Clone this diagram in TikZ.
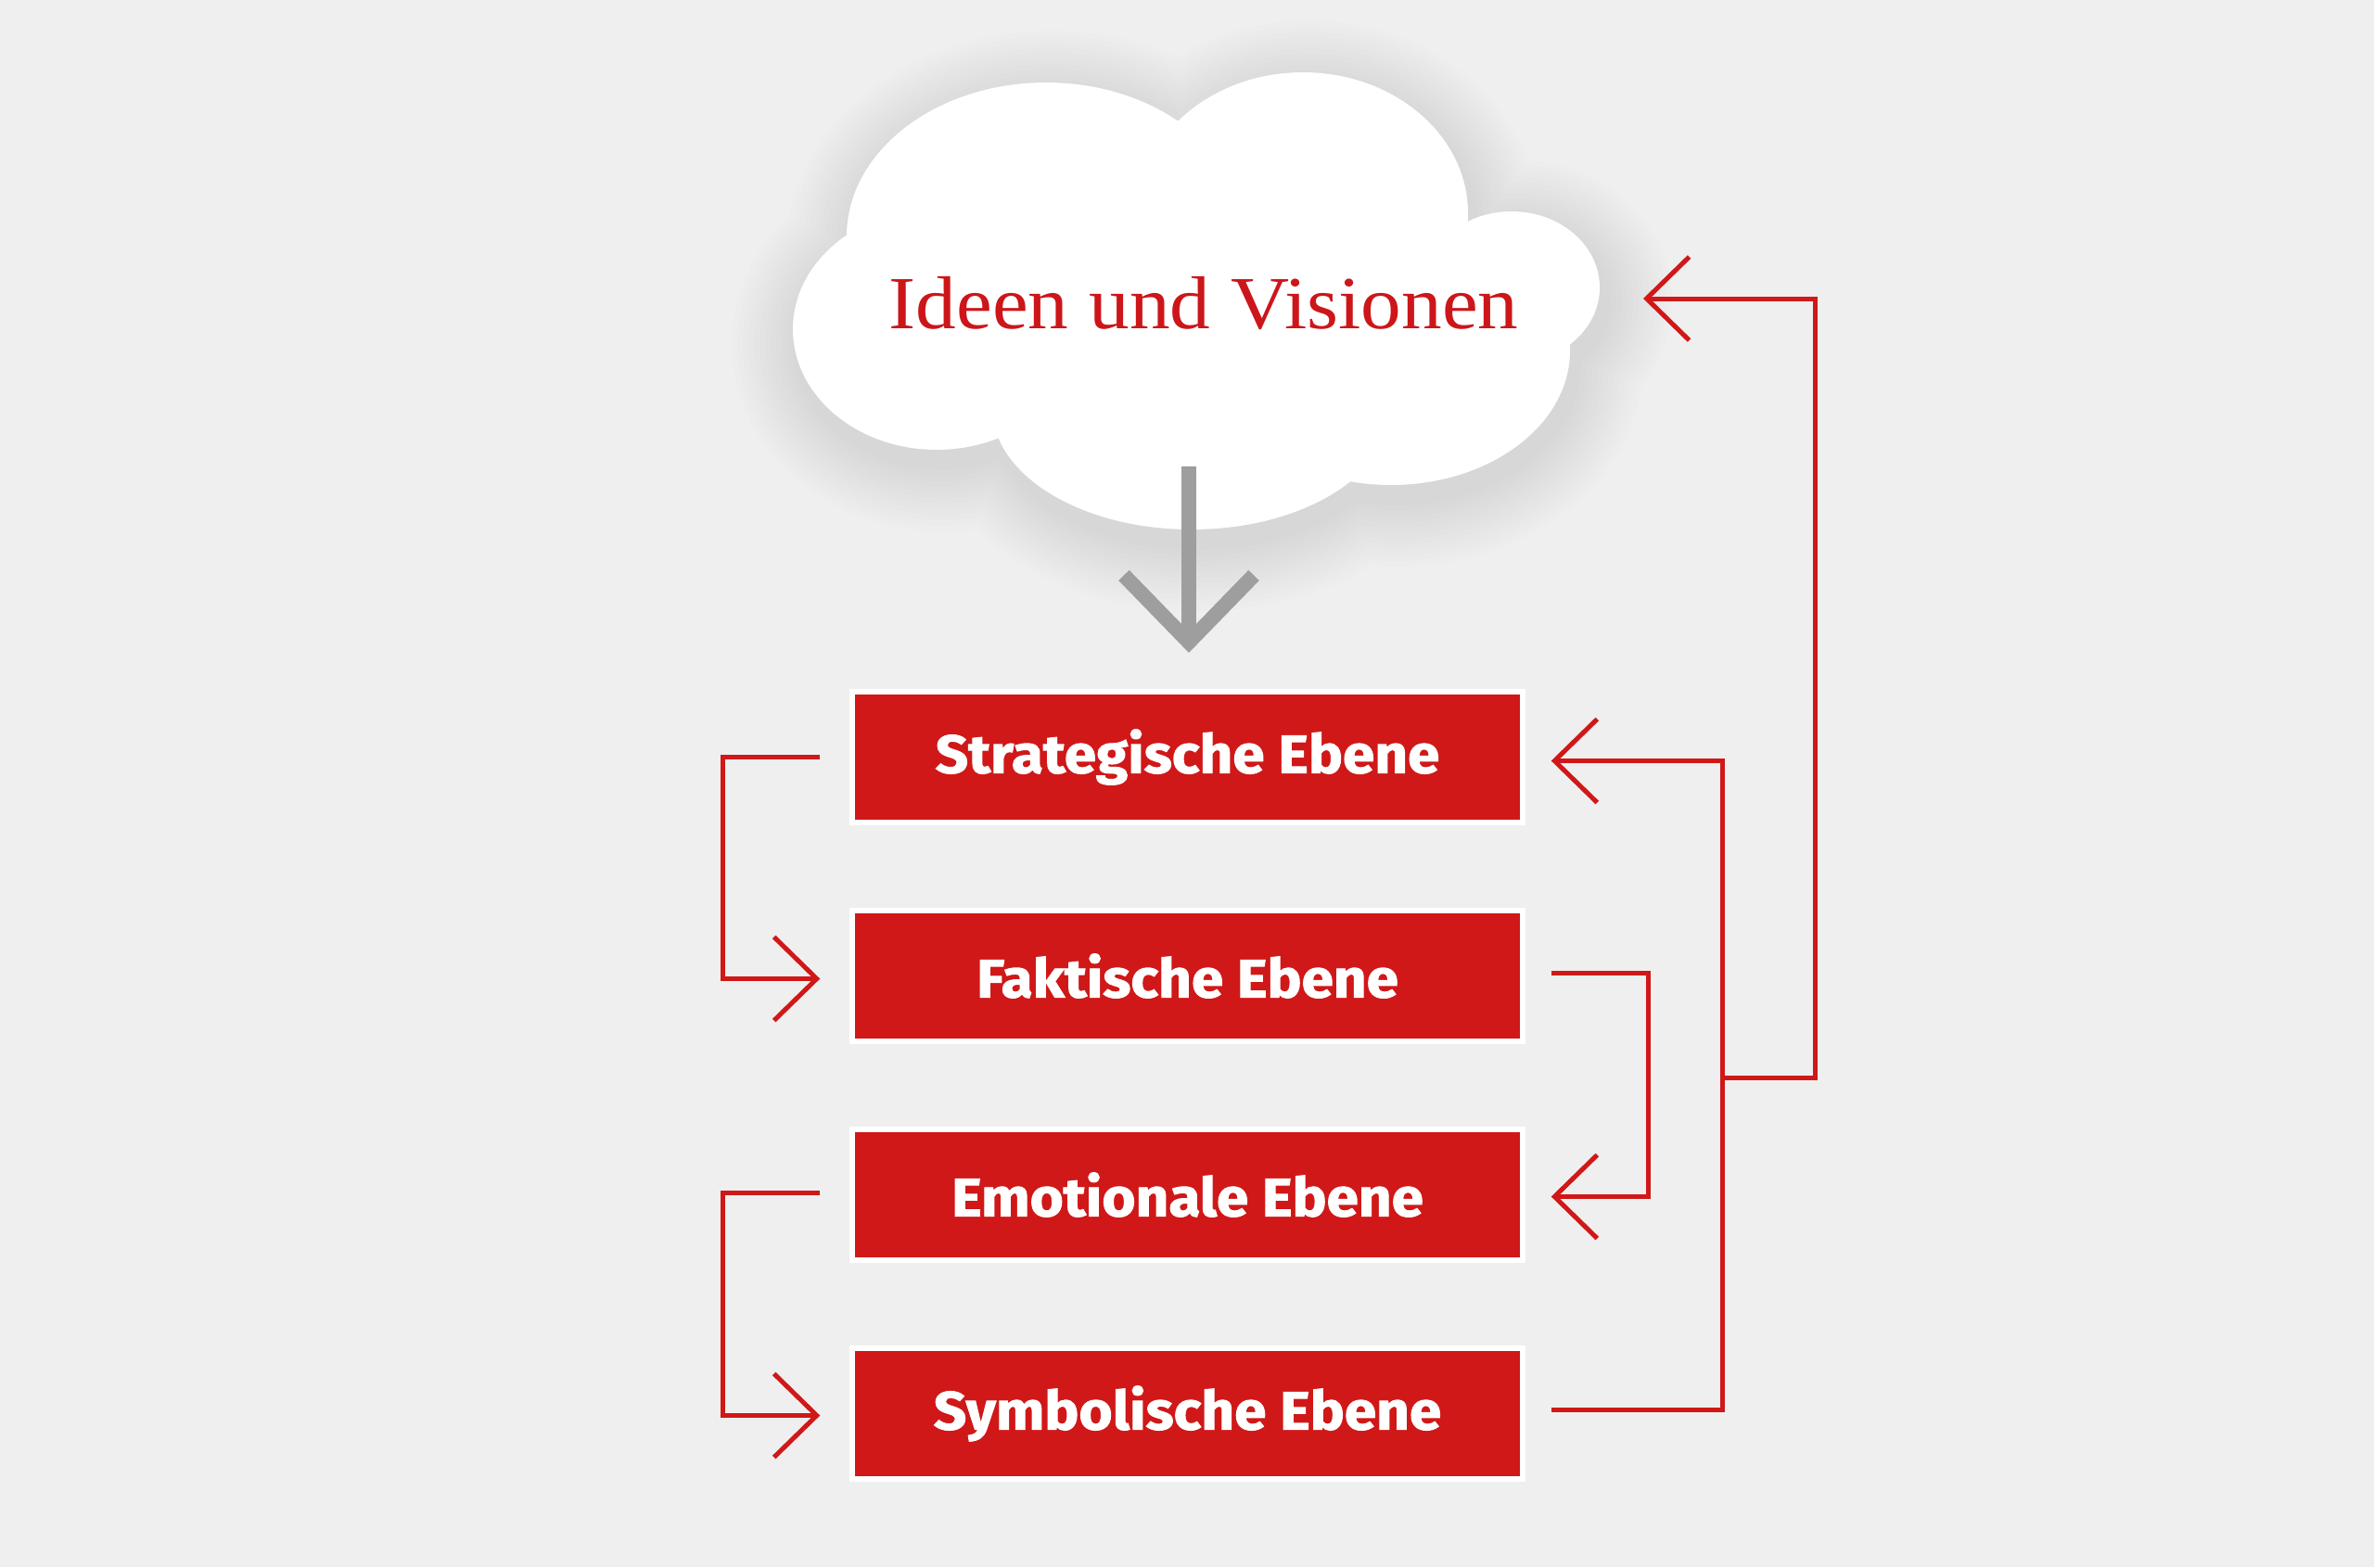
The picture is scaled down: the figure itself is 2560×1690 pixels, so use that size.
\documentclass[tikz,border=0pt]{standalone}
\usepackage{fontspec}
\usetikzlibrary{arrows.meta,calc}
\newfontfamily\cloudfont{Liberation Serif}
\newfontfamily\levelfont{Fira Sans}[BoldFeatures={FakeBold=1.6}]
\definecolor{bg}{RGB}{239,239,239}
\definecolor{lvlred}{RGB}{208,24,24}
\definecolor{txtred}{RGB}{204,22,26}
\definecolor{arrgray}{RGB}{158,158,158}
% cloud as a union of ellipses; #1 = extra radius (px)
\newcommand\cloudlobes[1]{%
 (1128,255) ellipse[x radius={215+#1}, y radius={166+#1}]
 (1405,230) ellipse[x radius={178+#1}, y radius={152+#1}]
 (1630,310) ellipse[x radius={95+#1}, y radius={82+#1}]
 (1500,378) ellipse[x radius={193+#1}, y radius={145+#1}]
 (1285,440) ellipse[x radius={215+#1}, y radius={131+#1}]
 (1010,355) ellipse[x radius={155+#1}, y radius={130+#1}]
 (1290,320) ellipse[x radius={280+#1}, y radius={170+#1}]}
\begin{document}
\begin{tikzpicture}[x=0.01cm,y=-0.01cm,
  lvl/.style={fill=lvlred, draw=white, line width=0.06cm, minimum width=7.22cm,
    minimum height=1.41cm, inner sep=0pt, outer sep=0pt, text=white,
    font=\levelfont\bfseries\fontsize{16.5}{18}\selectfont},
  redarrow/.style={draw=lvlred, line width=0.05cm, -{Straight Barb[length=0.46cm,width=0.9cm]}},
  grayarrow/.style={draw=arrgray, line width=0.16cm, -{Straight Barb[length=0.72cm,width=1.4cm]}},
  cloudtext/.style={text=txtred, font=\cloudfont\fontsize{23}{26}\selectfont, inner sep=0pt}]
\fill[bg] (0,0) rectangle (2560,1690);
\useasboundingbox (0,0) rectangle (2560,1690);
% soft shadow of the cloud
\begin{scope}[shift={(6,16)}]
\foreach \d in {6,12,...,72} {
  \fill[black, opacity=0.0065] \cloudlobes{\d};
}
\end{scope}
\fill[white] \cloudlobes{0};
\node[cloudtext, anchor=base] (c) at (1298,354) {\scalebox{1.08}[1]{Ideen und Visionen}};
% levels
\node[lvl] (s) at (1280.5,816.5) {\scalebox{1.07}[1]{Strategische Ebene}};
\node[lvl] (f) at (1280.5,1052.5) {\scalebox{1.07}[1]{Faktische Ebene}};
\node[lvl] (e) at (1280.5,1288.5) {\scalebox{1.07}[1]{Emotionale Ebene}};
\node[lvl] (y) at (1280.5,1524.5) {\scalebox{1.07}[1]{Symbolische Ebene}};
% gray arrow
\coordinate (ga) at (1282,503);
\draw[grayarrow] (ga) -- ($(s.north)+(1.5,-42)$);
% left connectors
\draw[redarrow] ($(s.west)+(-35,0)$) -- ++(-105,0) |- ($(f.west)+(-35,3)$);
\draw[redarrow] ($(e.west)+(-35,-2)$) -- ++(-105,0) |- ($(y.west)+(-35,2)$);
% right connectors
\draw[redarrow] ($(f.east)+(31,-3)$) -- ++(105,0) |- ($(e.east)+(31,2)$);
\draw[redarrow] ($(y.east)+(31,-4)$) -- ++(185,0) |- ($(s.east)+(31,4)$);
\coordinate (br) at (1857,1162);
\coordinate (cR) at (1772,322);
\draw[redarrow] (br) -- (1957,1162) |- (cR);
\end{tikzpicture}
\end{document}
